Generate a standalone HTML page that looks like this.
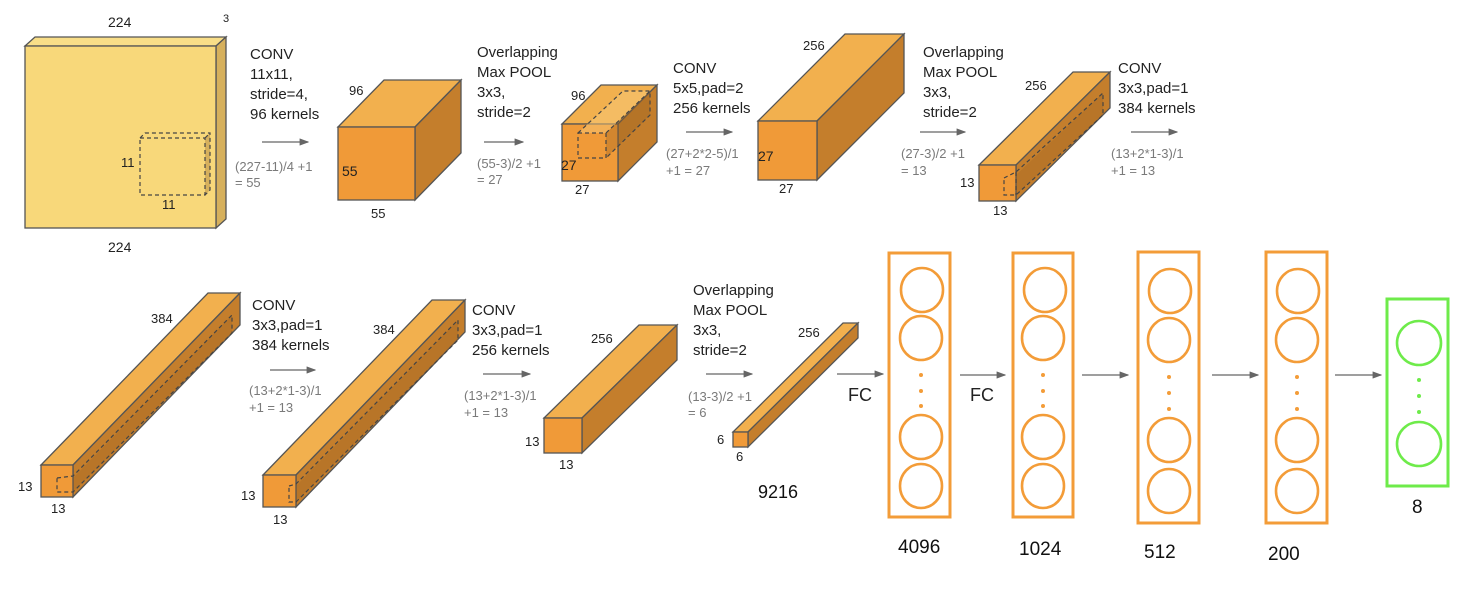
<!DOCTYPE html>
<html><head><meta charset="utf-8"><style>
html,body{margin:0;padding:0;background:#fff;}
svg{display:block;}
text{font-family:"Liberation Sans",Arial,sans-serif;}
.t{font-size:15px;fill:#222;}
.f{font-size:13px;fill:#7a7a7a;}
.l{font-size:13px;fill:#222;}
.fr{fill:#F09A38;stroke:#555;stroke-width:1.3;}
.tp{fill:#F2B04E;stroke:#555;stroke-width:1.3;}
.sd{fill:#C47E2C;stroke:#555;stroke-width:1.3;}
.d{fill:none;stroke:#444;stroke-width:1.2;stroke-dasharray:4,3;}
.ob{fill:none;stroke:#F39C38;stroke-width:3;}
.oc{fill:none;stroke:#F39C38;stroke-width:2.6;}
.gb{fill:none;stroke:#6EEB4A;stroke-width:3;}
.gc{fill:none;stroke:#6EEB4A;stroke-width:2.6;}
.ar{stroke:#666;stroke-width:1.2;fill:none;}
.big{font-size:19px;fill:#111;}
</style></head><body>
<svg width="1474" height="606" viewBox="0 0 1474 606" xmlns="http://www.w3.org/2000/svg">
<defs><marker id="a" markerWidth="8" markerHeight="6" refX="7" refY="3" orient="auto"><path d="M0,0 L8,3 L0,6 z" fill="#666"/></marker></defs>

<!-- Slab -->
<polygon points="25,46 35,37 226,37 216,46" fill="#F9DE88" stroke="#555" stroke-width="1.3"/>
<polygon points="216,46 226,37 226,219 216,228" fill="#D6B05C" stroke="#555" stroke-width="1.3"/>
<rect x="25" y="46" width="191" height="182" fill="#F8D87A" stroke="#555" stroke-width="1.3"/>
<polygon points="205,138 210,133 210,190 205,195" fill="#D6B05C"/>
<path class="d" d="M140,138 H205 V195 H140 Z M140,138 L145,133 H210 V190 L205,195 M205,138 L210,133"/>
<text x="108" y="27" class="l" style="font-size:14px">224</text>
<text x="223" y="22" class="l" style="font-size:11px">3</text>
<text x="108" y="252" class="l" style="font-size:14px">224</text>
<text x="121" y="167" class="l" style="font-size:13px">11</text>
<text x="162" y="209" class="l" style="font-size:13px">11</text>

<!-- text block 1 -->
<text class="t" x="250" y="59">CONV</text>
<text class="t" x="250" y="79">11x11,</text>
<text class="t" x="250" y="99">stride=4,</text>
<text class="t" x="250" y="119">96 kernels</text>
<line class="ar" x1="262" y1="142" x2="308" y2="142" marker-end="url(#a)"/>
<text class="f" x="235" y="171">(227-11)/4 +1</text>
<text class="f" x="235" y="187">= 55</text>

<!-- cube1 -->
<polygon class="tp" points="338,127 384,80 461,80 415,127"/>
<polygon class="sd" points="415,127 461,80 461,153 415,200"/>
<rect class="fr" x="338" y="127" width="77" height="73"/>
<text class="l" x="349" y="95">96</text>
<text class="l" x="342" y="176" style="font-size:14px">55</text>
<text class="l" x="371" y="218">55</text>

<!-- text block 2 -->
<text class="t" x="477" y="57">Overlapping</text>
<text class="t" x="477" y="77">Max POOL</text>
<text class="t" x="477" y="97">3x3,</text>
<text class="t" x="477" y="117">stride=2</text>
<line class="ar" x1="484" y1="142" x2="523" y2="142" marker-end="url(#a)"/>
<text class="f" x="477" y="168">(55-3)/2 +1</text>
<text class="f" x="477" y="184">= 27</text>

<!-- cube2 -->
<polygon class="tp" points="562,124 601,85 657,85 618,124"/>
<polygon class="sd" points="618,124 657,85 657,142 618,181"/>
<rect class="fr" x="562" y="124" width="56" height="57"/>
<polygon points="606,133 650,91 650,115 606,158" fill="#9a6020" opacity="0.35"/>
<polygon points="578,133 623,91 650,91 606,133" fill="#F6C878" opacity="0.5"/>
<path class="d" d="M578,133 H606 V158 H578 Z M578,133 L623,91 H650 V115 L606,158 M606,133 L650,91"/>
<text class="l" x="571" y="100">96</text>
<text class="l" x="561" y="170" style="font-size:14px">27</text>
<text class="l" x="575" y="194">27</text>

<!-- text block 3 -->
<text class="t" x="673" y="73">CONV</text>
<text class="t" x="673" y="93">5x5,pad=2</text>
<text class="t" x="673" y="113">256 kernels</text>
<line class="ar" x1="686" y1="132" x2="732" y2="132" marker-end="url(#a)"/>
<text class="f" x="666" y="158">(27+2*2-5)/1</text>
<text class="f" x="666" y="175">+1  = 27</text>

<!-- cube3 -->
<polygon class="tp" points="758,121 845,34 904,34 817,121"/>
<polygon class="sd" points="817,121 904,34 904,93 817,180"/>
<rect class="fr" x="758" y="121" width="59" height="59"/>
<text class="l" x="803" y="50">256</text>
<text class="l" x="758" y="161" style="font-size:14px">27</text>
<text class="l" x="779" y="193">27</text>

<!-- text block 4 -->
<text class="t" x="923" y="57">Overlapping</text>
<text class="t" x="923" y="77">Max POOL</text>
<text class="t" x="923" y="97">3x3,</text>
<text class="t" x="923" y="117">stride=2</text>
<line class="ar" x1="920" y1="132" x2="965" y2="132" marker-end="url(#a)"/>
<text class="f" x="901" y="158">(27-3)/2 +1</text>
<text class="f" x="901" y="175">= 13</text>

<!-- cube4 -->
<polygon class="tp" points="979,165 1073,72 1110,72 1016,165"/>
<polygon class="sd" points="1016,165 1110,72 1110,108 1016,201"/>
<rect class="fr" x="979" y="165" width="37" height="36"/>
<polygon points="1016,175 1103,93 1103,115 1016,195" fill="#9a6020" opacity="0.3"/>
<path class="d" d="M1004,178 L1016,172 L1103,93 V115 L1016,195 H1004 V178 M1016,172 V195"/>
<text class="l" x="1025" y="90">256</text>
<text class="l" x="960" y="187">13</text>
<text class="l" x="993" y="215">13</text>

<!-- text block 5 -->
<text class="t" x="1118" y="73">CONV</text>
<text class="t" x="1118" y="93">3x3,pad=1</text>
<text class="t" x="1118" y="113">384 kernels</text>
<line class="ar" x1="1131" y1="132" x2="1177" y2="132" marker-end="url(#a)"/>
<text class="f" x="1111" y="158">(13+2*1-3)/1</text>
<text class="f" x="1111" y="175">+1  = 13</text>

<!-- Row 2 beam1 -->
<polygon class="tp" points="41,465 208,293 240,293 73,465"/>
<polygon class="sd" points="73,465 240,293 240,325 73,497"/>
<rect class="fr" x="41" y="465" width="32" height="32"/>
<polygon points="73,478 232,315 232,333 73,492" fill="#9a6020" opacity="0.3"/>
<path class="d" d="M57,478 L73,476 L232,315 V333 L73,492 H57 V478"/>
<text class="l" x="151" y="323">384</text>
<text class="l" x="18" y="491">13</text>
<text class="l" x="51" y="513">13</text>

<text class="t" x="252" y="310">CONV</text>
<text class="t" x="252" y="330">3x3,pad=1</text>
<text class="t" x="252" y="350">384 kernels</text>
<line class="ar" x1="270" y1="370" x2="315" y2="370" marker-end="url(#a)"/>
<text class="f" x="249" y="395">(13+2*1-3)/1</text>
<text class="f" x="249" y="412">+1  = 13</text>

<!-- beam2 -->
<polygon class="tp" points="263,475 432,300 465,300 296,475"/>
<polygon class="sd" points="296,475 465,300 465,332 296,507"/>
<rect class="fr" x="263" y="475" width="33" height="32"/>
<polygon points="296,486 458,320 458,340 296,502" fill="#9a6020" opacity="0.3"/>
<path class="d" d="M289,486 L296,484 L458,320 V340 L296,502 H289 V486"/>
<text class="l" x="373" y="334">384</text>
<text class="l" x="241" y="500">13</text>
<text class="l" x="273" y="524">13</text>

<text class="t" x="472" y="315">CONV</text>
<text class="t" x="472" y="335">3x3,pad=1</text>
<text class="t" x="472" y="355">256 kernels</text>
<line class="ar" x1="483" y1="374" x2="530" y2="374" marker-end="url(#a)"/>
<text class="f" x="464" y="400">(13+2*1-3)/1</text>
<text class="f" x="464" y="417">+1  = 13</text>

<!-- beam3 -->
<polygon class="tp" points="544,418 639,325 677,325 582,418"/>
<polygon class="sd" points="582,418 677,325 677,360 582,453"/>
<rect class="fr" x="544" y="418" width="38" height="35"/>
<text class="l" x="591" y="343">256</text>
<text class="l" x="525" y="446">13</text>
<text class="l" x="559" y="469">13</text>

<text class="t" x="693" y="295">Overlapping</text>
<text class="t" x="693" y="315">Max POOL</text>
<text class="t" x="693" y="335">3x3,</text>
<text class="t" x="693" y="355">stride=2</text>
<line class="ar" x1="706" y1="374" x2="752" y2="374" marker-end="url(#a)"/>
<text class="f" x="688" y="401">(13-3)/2 +1</text>
<text class="f" x="688" y="417">= 6</text>

<!-- beam4 -->
<polygon class="tp" points="733,432 843,323 858,323 748,432"/>
<polygon class="sd" points="748,432 858,323 858,338 748,447"/>
<rect class="fr" x="733" y="432" width="15" height="15"/>
<text class="l" x="798" y="337">256</text>
<text class="l" x="717" y="444">6</text>
<text class="l" x="736" y="461">6</text>
<text x="758" y="498" style="font-size:18px;fill:#111">9216</text>

<!-- FC section -->
<line class="ar" x1="837" y1="374" x2="883" y2="374" marker-end="url(#a)"/>
<text x="848" y="401" style="font-size:18px;fill:#222">FC</text>
<line class="ar" x1="960" y1="375" x2="1005" y2="375" marker-end="url(#a)"/>
<text x="970" y="401" style="font-size:18px;fill:#222">FC</text>
<line class="ar" x1="1082" y1="375" x2="1128" y2="375" marker-end="url(#a)"/>
<line class="ar" x1="1212" y1="375" x2="1258" y2="375" marker-end="url(#a)"/>
<line class="ar" x1="1335" y1="375" x2="1381" y2="375" marker-end="url(#a)"/>

<g>
<rect class="ob" x="889" y="253" width="61" height="264"/>
<ellipse class="oc" cx="922" cy="290" rx="21" ry="22"/>
<ellipse class="oc" cx="921" cy="338" rx="21" ry="22"/>
<ellipse class="oc" cx="921" cy="437" rx="21" ry="22"/>
<ellipse class="oc" cx="921" cy="486" rx="21" ry="22"/>
<g fill="#F39C38"><circle cx="921" cy="375" r="2"/><circle cx="921" cy="391" r="2"/><circle cx="921" cy="406" r="2"/></g>
<text x="898" y="553" class="big">4096</text>
</g>
<g>
<rect class="ob" x="1013" y="253" width="60" height="264"/>
<ellipse class="oc" cx="1045" cy="290" rx="21" ry="22"/>
<ellipse class="oc" cx="1043" cy="338" rx="21" ry="22"/>
<ellipse class="oc" cx="1043" cy="437" rx="21" ry="22"/>
<ellipse class="oc" cx="1043" cy="486" rx="21" ry="22"/>
<g fill="#F39C38"><circle cx="1043" cy="375" r="2"/><circle cx="1043" cy="391" r="2"/><circle cx="1043" cy="406" r="2"/></g>
<text x="1019" y="555" class="big">1024</text>
</g>
<g>
<rect class="ob" x="1138" y="252" width="61" height="271"/>
<ellipse class="oc" cx="1170" cy="291" rx="21" ry="22"/>
<ellipse class="oc" cx="1169" cy="340" rx="21" ry="22"/>
<ellipse class="oc" cx="1169" cy="440" rx="21" ry="22"/>
<ellipse class="oc" cx="1169" cy="491" rx="21" ry="22"/>
<g fill="#F39C38"><circle cx="1169" cy="377" r="2"/><circle cx="1169" cy="393" r="2"/><circle cx="1169" cy="409" r="2"/></g>
<text x="1144" y="558" class="big">512</text>
</g>
<g>
<rect class="ob" x="1266" y="252" width="61" height="271"/>
<ellipse class="oc" cx="1298" cy="291" rx="21" ry="22"/>
<ellipse class="oc" cx="1297" cy="340" rx="21" ry="22"/>
<ellipse class="oc" cx="1297" cy="440" rx="21" ry="22"/>
<ellipse class="oc" cx="1297" cy="491" rx="21" ry="22"/>
<g fill="#F39C38"><circle cx="1297" cy="377" r="2"/><circle cx="1297" cy="393" r="2"/><circle cx="1297" cy="409" r="2"/></g>
<text x="1268" y="560" class="big">200</text>
</g>
<g>
<rect class="gb" x="1387" y="299" width="61" height="187"/>
<ellipse class="gc" cx="1419" cy="343" rx="22" ry="22"/>
<ellipse class="gc" cx="1419" cy="444" rx="22" ry="22"/>
<g fill="#6EEB4A"><circle cx="1419" cy="380" r="2"/><circle cx="1419" cy="396" r="2"/><circle cx="1419" cy="412" r="2"/></g>
<text x="1412" y="513" class="big">8</text>
</g>
</svg>
</body></html>
